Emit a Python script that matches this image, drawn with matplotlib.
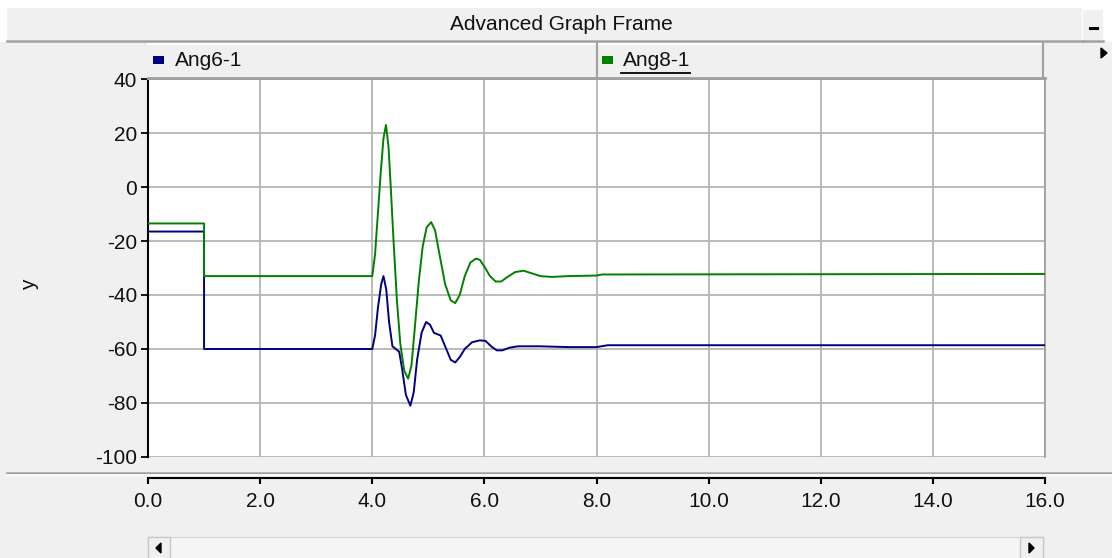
import matplotlib
matplotlib.use("Agg")
from matplotlib import pyplot as plt
from matplotlib.patches import Rectangle, Polygon
from matplotlib.lines import Line2D

plt.rcParams['font.family'] = ['Liberation Sans', 'DejaVu Sans']
plt.rcParams['axes.unicode_minus'] = False

# Ang6-1 trace (time in s, angle in deg)
t6 = [0.0, 1.0, 1.0, 4.0, 4.05, 4.1, 4.16, 4.2, 4.25, 4.3, 4.36, 4.42, 4.48,
      4.53, 4.6, 4.68, 4.74, 4.8, 4.88, 4.96, 5.03, 5.1, 5.22, 5.3, 5.4, 5.48,
      5.56, 5.65, 5.78, 5.92, 6.02, 6.12, 6.22, 6.32, 6.45, 6.6, 7.0, 7.5,
      8.0, 8.2, 16.0]
ang6 = [-16.5, -16.5, -60.0, -60.0, -55.0, -45.0, -36.0, -33.0, -38.0, -50.0,
        -59.0, -60.0, -61.0, -67.0, -77.0, -81.0, -76.0, -64.0, -54.0, -50.0,
        -51.0, -54.0, -55.0, -59.0, -64.0, -65.0, -63.0, -60.0, -57.5, -56.8,
        -57.0, -59.0, -60.5, -60.5, -59.5, -59.0, -59.0, -59.3, -59.3, -58.6,
        -58.6]

# Ang8-1 trace
t8 = [0.0, 1.0, 1.0, 4.0, 4.05, 4.1, 4.15, 4.2, 4.245, 4.29, 4.33, 4.38, 4.44,
      4.5, 4.57, 4.64, 4.7, 4.76, 4.83, 4.9, 4.97, 5.05, 5.12, 5.2, 5.3, 5.4,
      5.48, 5.56, 5.65, 5.75, 5.85, 5.92, 6.0, 6.1, 6.2, 6.3, 6.4, 6.55, 6.7,
      6.85, 7.0, 7.2, 7.5, 8.0, 8.1, 16.0]
ang8 = [-13.5, -13.5, -33.0, -33.0, -25.0, -10.0, 5.0, 18.0, 23.0, 15.0, 0.0,
        -20.0, -42.0, -58.0, -68.0, -71.0, -66.0, -52.0, -35.0, -22.0, -15.0,
        -13.0, -16.0, -25.0, -36.0, -42.0, -43.0, -40.0, -33.0, -28.0, -26.5,
        -27.0, -29.5, -33.0, -35.0, -35.0, -33.5, -31.5, -31.0, -32.0, -33.0,
        -33.3, -33.0, -32.8, -32.4, -32.2]

x_ticks = [0, 2, 4, 6, 8, 10, 12, 14, 16]
x_labels = ["0.0", "2.0", "4.0", "6.0", "8.0", "10.0", "12.0", "14.0", "16.0"]
y_ticks = [-100, -80, -60, -40, -20, 0, 20, 40]

W, H = 1112, 558
BG = "#f0f0f0"
EDGE = "#a0a0a0"
FS = 15

fig = plt.figure(figsize=(W / 100, H / 100), dpi=100, facecolor=BG)


def fx(x):
    return x / W


def fy(y):
    return 1 - y / H


def box(x0, y0, x1, y1, face=BG, edge=EDGE, lw=1.2, z=0):
    r = Rectangle((fx(x0), fy(y1)), fx(x1 - x0), (y1 - y0) / H,
                  transform=fig.transFigure, facecolor=face, edgecolor=edge,
                  linewidth=lw, zorder=z)
    fig.add_artist(r)


def hline(x0, x1, y, color=EDGE, lw=1.5):
    fig.add_artist(Line2D([fx(x0), fx(x1)], [fy(y), fy(y)],
                          transform=fig.transFigure, color=color, lw=lw))


def tri(points, color="black"):
    fig.add_artist(Polygon([(fx(a), fy(b)) for a, b in points], closed=True,
                           transform=fig.transFigure, color=color))


# top strip and title bar
box(0, 0, W, 42, face="white", edge="none", lw=0)
box(7, 8, 1082, 40, face=BG, edge="none", lw=0)
hline(7, 1082, 40.5, EDGE, 1.8)
fig.text(fx(561), fy(24), "Advanced Graph Frame", ha="center", va="center",
         fontsize=FS, color="#111111")

# minimize button
box(1083, 10, 1103, 40, face=BG, edge="none", lw=0)
hline(1083, 1103, 40.5, EDGE, 1.8)
hline(1090, 1097, 28, "black", 2.2)

# legend header cells
box(148, 43, 597, 78, face=BG, edge="none", lw=0)
box(597, 43, 1043, 78, face=BG, edge="none", lw=0)
hline(148, 1043, 43.5, "white", 1.5)
hline(148, 1045, 78, EDGE, 2.0)
fig.add_artist(Line2D([fx(597), fx(597)], [fy(43), fy(78)],
                      transform=fig.transFigure, color=EDGE, lw=1.5))
fig.add_artist(Line2D([fx(1043), fx(1043)], [fy(43), fy(78)],
                      transform=fig.transFigure, color=EDGE, lw=1.5))

box(153, 56, 164, 64, face="#000080", edge="none", lw=0, z=3)
fig.text(fx(175), fy(61), "Ang6-1", ha="left", va="center", fontsize=FS,
         color="#111111")
box(602, 56, 613, 64, face="#008000", edge="none", lw=0, z=3)
fig.text(fx(623), fy(61), "Ang8-1", ha="left", va="center", fontsize=FS,
         color="#111111")
hline(621, 690, 73, "black", 1.3)

# scroll arrow at the right of the header
tri([(1101, 48), (1101, 58), (1107, 53)])

# plot area
ax = fig.add_axes([fx(148), fy(457), fx(1045 - 148), (457 - 79) / H])
ax.set_facecolor("white")

ax.plot(t6, ang6, color="#000080", lw=1.4, zorder=3)
ax.plot(t8, ang8, color="#008000", lw=1.4, zorder=3)

ax.set_xlim(0, 16)
ax.set_ylim(-100, 40)
ax.set_xticks(x_ticks)
ax.set_xticklabels(x_labels)
ax.set_yticks(y_ticks)
ax.grid(True, color="#b4b4b4", lw=1.3)
ax.set_axisbelow(True)

for s in ["top", "right"]:
    ax.spines[s].set_color(EDGE)
    ax.spines[s].set_linewidth(1.3)
ax.spines["left"].set_color("black")
ax.spines["left"].set_linewidth(1.5)
ax.spines["bottom"].set_color("black")
ax.spines["bottom"].set_linewidth(1.5)
ax.spines["bottom"].set_position(("outward", 15))

ax.tick_params(axis="both", direction="out", colors="black", labelsize=FS,
               labelcolor="#111111")
ax.tick_params(axis="y", length=5, width=1.3, pad=3)
ax.tick_params(axis="x", length=4, width=1.5, pad=6)

fig.text(fx(30), fy(285), "y", rotation=90, ha="center", va="center",
         fontsize=FS, color="#111111")

# separator between plot and axis strip
hline(7, W, 473, EDGE, 1.8)
hline(7, W, 475, "white", 1.2)

# horizontal scrollbar
box(148, 537, 1043, 560, face="#f5f5f5", edge="#d8d8d8", lw=1.0)
box(148, 537, 170, 560, face=BG, edge="#c8c8c8", lw=1.0)
box(1020, 537, 1043, 560, face=BG, edge="#c8c8c8", lw=1.0)
tri([(161, 543), (161, 553), (156, 548)])
tri([(1029, 543), (1029, 553), (1034, 548)])

plt.savefig("out.png", dpi=100, facecolor=fig.get_facecolor())
